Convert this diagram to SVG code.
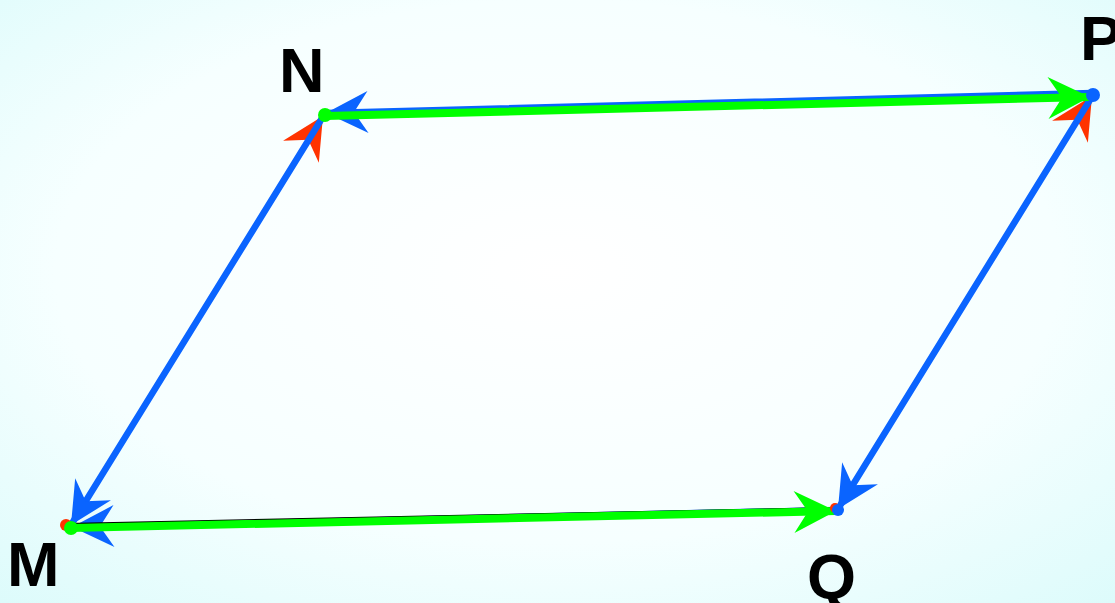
<svg xmlns="http://www.w3.org/2000/svg" width="1115" height="603" viewBox="0 0 1115 603">
<style>
.lbl{font-family:"Liberation Sans",Arial,sans-serif;font-weight:bold;font-size:63px;fill:#000}
.blue{stroke:#0a64ff;stroke-width:6.5;fill:none;stroke-linecap:round}
.green{stroke:#00ff00;stroke-width:8;fill:none;stroke-linecap:round}
.red{stroke:#ff3300;stroke-width:3;fill:none}
</style>
<defs>
<radialGradient id="bg" cx="0.5" cy="0.45" r="0.75">
<stop offset="0" stop-color="#ffffff"/>
<stop offset="0.6" stop-color="#f6ffff"/>
<stop offset="1" stop-color="#dcfbfb"/>
</radialGradient>
<marker id="aB" markerUnits="userSpaceOnUse" viewBox="-44 -23 46 46" refX="0" refY="0" markerWidth="46" markerHeight="46" orient="auto"><path d="M0,0 L-42,-21 L-28,0 L-42,21 Z" fill="#0a64ff"/></marker>
<marker id="aG" markerUnits="userSpaceOnUse" viewBox="-44 -23 46 46" refX="0" refY="0" markerWidth="46" markerHeight="46" orient="auto"><path d="M0,0 L-42,-21 L-28,0 L-42,21 Z" fill="#00ff00"/></marker>
<marker id="aR" markerUnits="userSpaceOnUse" viewBox="-44 -23 46 46" refX="0" refY="0" markerWidth="46" markerHeight="46" orient="auto"><path d="M0,0 L-42,-21 L-28,0 L-42,21 Z" fill="#ff3300"/></marker>
</defs>
<rect width="1115" height="603" fill="url(#bg)"/>
<g id="connectors">
<line class="red" x1="70" y1="526" x2="323" y2="116" marker-end="url(#aR)"/>
<line class="red" x1="838" y1="509" x2="1092" y2="96" marker-end="url(#aR)"/>
<line class="blue" x1="324" y1="115" x2="71" y2="525" marker-end="url(#aB)"/>
<line class="blue" x1="1093" y1="95" x2="838" y2="509" marker-end="url(#aB)"/>
<line class="blue" x1="1093" y1="93" x2="326" y2="113" marker-end="url(#aB)"/>
<line class="blue" x1="837" y1="510" x2="72" y2="527" marker-end="url(#aB)"/>
<line x1="66" y1="524" x2="834" y2="508" stroke="#000" stroke-width="2"/>
<line class="green" x1="325" y1="116" x2="1090" y2="97" marker-end="url(#aG)"/>
<line class="green" x1="70" y1="528" x2="836" y2="511" marker-end="url(#aG)"/>
</g>
<g id="M"><circle cx="66" cy="525" r="6" fill="#ff3300"/><circle cx="71" cy="528" r="7" fill="#00ff00"/><text class="lbl" x="7" y="586">M</text></g>
<g id="N"><circle cx="325" cy="115" r="7" fill="#00ff00"/><text class="lbl" x="279" y="92">N</text></g>
<g id="P"><circle cx="1093" cy="95" r="7" fill="#0a64ff"/><text class="lbl" x="1080" y="60">P</text></g>
<g id="Q"><circle cx="835" cy="508" r="5" fill="#ff3300"/><circle cx="838" cy="510" r="6" fill="#0a64ff"/><text class="lbl" x="807" y="598">Q</text></g>
</svg>
